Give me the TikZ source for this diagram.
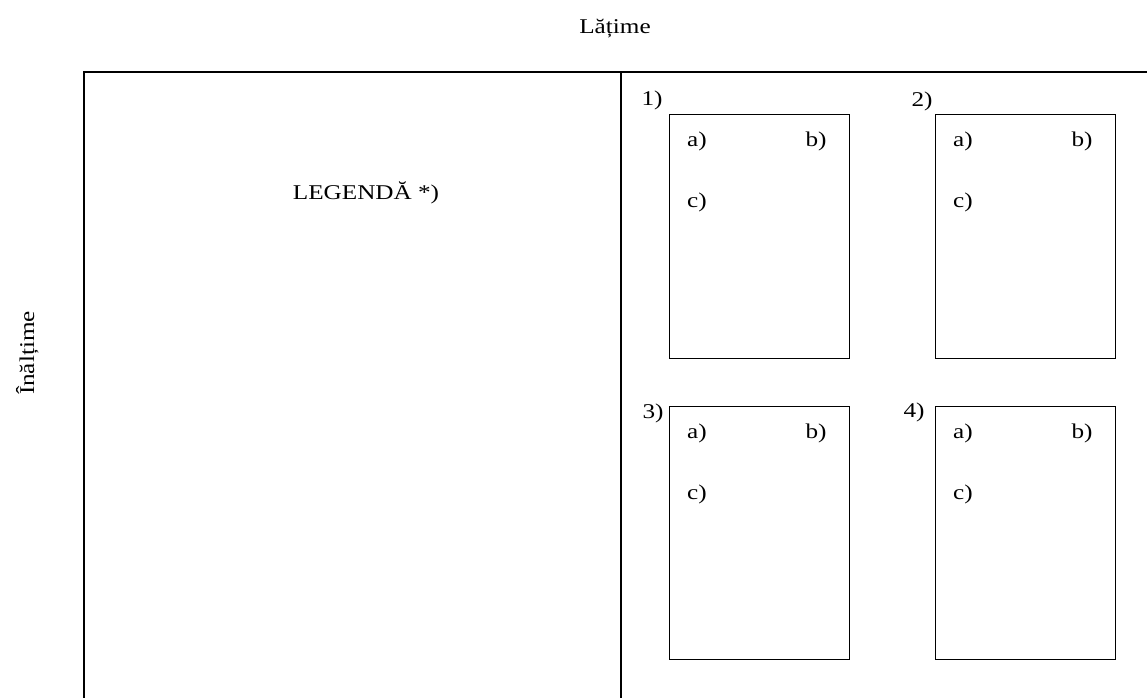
\documentclass[tikz,border=0pt]{standalone}
\usepackage{fontspec}
\setmainfont{Liberation Serif}[FakeStretch=1.2]
\usetikzlibrary{calc}
\begin{document}
\begin{tikzpicture}[x=1pt,y=-1pt,
  every node/.style={font=\fontsize{21}{25}\selectfont, inner sep=0pt},
  frameline/.style={line width=2pt, black},
  pagebox/.style={draw, line width=1.4pt, anchor=north west, minimum width=180pt},
  lbl/.style={anchor=center}]
\useasboundingbox (0,0) rectangle (1147,697);
\clip (0,0) rectangle (1147,697);
% frame
\coordinate (tl) at (84,72);
\coordinate (tr) at (1160,72);
\coordinate (bl) at (84,710);
\coordinate (dt) at (621,72);
\coordinate (db) at (621,710);
\draw[frameline] (bl) -- (tl) -- (tr);
\draw[frameline] (dt) -- (db);
% titles
\node[anchor=base] (w) at (615,33) {Lățime};
\node[anchor=base, rotate=90] (h) at (34,353) {Înălțime};
\node[anchor=base] (leg) at (366,199) {LEGENDĂ *)};
% boxes
\node[pagebox, minimum height=244pt] (b1) at (669,114) {};
\node[pagebox, minimum height=244pt] (b2) at (935,114) {};
\node[pagebox, minimum height=253pt] (b3) at (669,406) {};
\node[pagebox, minimum height=253pt] (b4) at (935,406) {};
% numbers
\node[lbl] (n1) at (652,100) {1)};
\node[lbl] (n2) at (922,101) {2)};
\node[lbl] (n3) at (653,413) {3)};
\node[lbl] (n4) at (914,412) {4)};
% inner labels
\foreach \b in {1,2,3,4}{
  \node[lbl] (a\b) at ($(b\b.north west)+(28,27)$) {a)};
  \node[lbl] (bb\b) at ($(b\b.north west)+(147,27)$) {b)};
  \node[lbl] (c\b) at ($(b\b.north west)+(28,88)$) {c)};
}
\end{tikzpicture}
\end{document}
